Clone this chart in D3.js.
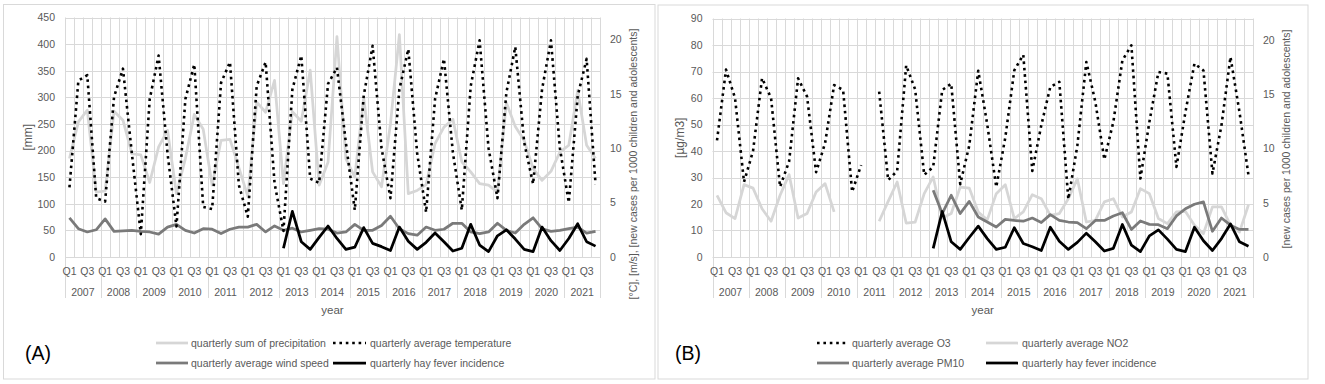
<!DOCTYPE html>
<html><head><meta charset="utf-8">
<script src="https://cdn.jsdelivr.net/npm/d3@7"></script>
<style>
body{margin:0;background:#fff}
svg text{font-family:"Liberation Sans",Arial,sans-serif;fill:#595959}
</style>
</head><body>
<svg id="chart" width="1325" height="384"></svg>
<script>
// ---------------- data ----------------
const years = [2007,2008,2009,2010,2011,2012,2013,2014,2015,2016,2017,2018,2019,2020,2021];
const quarters = ["Q1","Q2","Q3","Q4"];
const shownQuarterLabels = ["Q1","Q3"];
const leftTicksA = [0,50,100,150,200,250,300,350,400,450];
const rightTicks = [0,5,10,15,20];
const leftTicksB = [0,10,20,30,40,50,60,70,80,90];

const precipitation = [185,254,276,122, 124,274,257,194, 192,140,207,238, 119,185,268,240,
  135,219,221,168, 114,291,272,332, 138,273,255,351, 135,178,414,185, 150,300,160,132,
  250,418,119,125, 136,213,244,259, 179,160,138,135, 122,290,245,219, 166,144,161,197,
  210,313,210,185];
const temperature = [6.4,16.2,16.7,5.4, 5.1,14.7,17.3,9.5, 2.1,14.5,18.5,9.5, 2.8,14.5,17.7,4.6,
  4.4,16.0,17.9,6.6, 3.7,15.7,17.9,6.8, 2.4,15.4,18.5,7.2, 6.8,15.9,17.4,10.5, 4.3,14.8,19.4,10.0,
  5.4,15.4,19.1,9.5, 4.1,14.5,18.2,9.6, 4.3,15.7,19.9,10.0, 5.4,15.1,19.3,10.5, 6.7,15.4,19.9,10.0,
  5.0,14.8,18.2,6.7];
const windSpeed = [3.6,2.6,2.3,2.5, 3.5,2.35,2.4,2.45, 2.35,2.3,2.1,2.75, 3.0,2.45,2.2,2.6,
  2.55,2.15,2.55,2.75, 2.75,3.0,2.3,2.85, 2.45,2.65,2.3,2.45, 2.6,2.55,2.2,2.3, 3.0,2.45,2.45,2.9,
  3.75,2.6,2.15,2.0, 2.75,2.45,2.55,3.1, 3.1,2.3,2.15,2.3, 3.1,2.45,2.2,3.0, 3.6,2.6,2.35,2.45,
  2.6,2.75,2.2,2.35];
const hayFever = [null,null,null,null, null,null,null,null, null,null,null,null, null,null,null,null,
  null,null,null,null, null,null,null,null, 0.8,4.2,1.4,0.7, 1.8,2.85,1.7,0.7, 0.9,2.7,1.25,0.95,
  0.6,2.75,1.45,0.7, 1.35,2.2,1.4,0.55, 0.8,3.0,1.1,0.5, 1.95,2.5,1.65,0.7, 0.5,2.75,1.5,0.6,
  1.7,3.05,1.4,1.0];
const o3 = [44,70.7,60,28.3, 40,67.5,60,26.5, 36,67.4,60.5,32, 43,64.9,63,24.6,
  34.7,null,62.4,29, 32.5,72.3,63.2,31, 34,63,65.4,27.5, 42,70.3,50,26.4, 45,70.4,76.3,32.5,
  49.7,64.2,66.1,21.8, 42,73.6,58.5,36.8, 51,74.2,79.9,29.6, 51,69.8,69.2,34, 54.7,73,70.4,31.5,
  49.7,75.5,54.7,30.8];
const no2 = [23.3,16.7,14.5,27.3, 26,18.2,13.5,23.3, 31.1,14.7,16.4,24.5, 27.7,17,null,null,
  null,null,13.5,21, 28.3,12.8,13.2,23.9, 30.2,14.7,16.4,26.4, 26,17,14,23.9, 27.3,14.5,17,23.5,
  22,15.7,16.4,22, 29.5,13.2,13.8,20.8, 22,15.1,17,25.8, 23.9,14.5,12.6,17, 17.2,12,8.8,18.9,
  18.9,12,9.4,19.7];
const pm10 = [null,null,null,null, null,null,null,null, null,null,null,null, null,null,null,null,
  null,null,null,null, null,null,null,null, 25.2,16.4,23.3,16.4, 21,15.1,13.2,11.3, 14.2,13.8,13.5,14.7,
  13,16,13.8,13.2, 13,10.7,13.8,13.8, 15.5,16.7,10.4,13.6, 12.3,12.2,10.7,15.5, 18.2,19.9,20.8,9.7,
  14.7,12,10.4,10.4];

// ---------------- drawing ----------------
const keys = years.flatMap(y => quarters.map(q => y + "-" + q));
const svg = d3.select("#chart");
const FS = "10.5px";
const GRID = "#d9d9d9";

const styles = {
  light:  {stroke:"#d6d6d6", width:2.75, dash:null},
  dark:   {stroke:"#7a7a7a", width:2.75, dash:null},
  black:  {stroke:"#000000", width:2.75, dash:null},
  dotted: {stroke:"#000000", width:2.6,  dash:"2.6,3.8"}
};

function drawPanel(cfg) {
  const g = svg.append("g");
  g.append("rect").attr("x",cfg.frame[0]).attr("y",cfg.frame[1])
    .attr("width",cfg.frame[2]-cfg.frame[0]).attr("height",cfg.frame[3]-cfg.frame[1])
    .attr("fill","none").attr("stroke",GRID).attr("stroke-width",1);

  const x = d3.scaleBand().domain(keys).range([cfg.left,cfg.right]).padding(0);
  const xYear = d3.scaleBand().domain(years).range([cfg.left,cfg.right]).padding(0);
  const yL = d3.scaleLinear().domain(cfg.leftDomain).range([cfg.bottom,cfg.top]);
  const yR = d3.scaleLinear().domain([0,22]).range([cfg.bottom,cfg.top]);

  g.append("g").selectAll("line").data(cfg.leftTicks).join("line")
    .attr("x1",cfg.left).attr("x2",cfg.right)
    .attr("y1",d=>Math.round(yL(d))+0.5).attr("y2",d=>Math.round(yL(d))+0.5)
    .attr("stroke",GRID).attr("stroke-width",1);
  const bounds = keys.map(k=>x(k)).concat([cfg.right]);
  g.append("g").selectAll("line").data(bounds).join("line")
    .attr("x1",d=>Math.round(d)+0.5).attr("x2",d=>Math.round(d)+0.5)
    .attr("y1",cfg.top).attr("y2",cfg.bottom)
    .attr("stroke",GRID).attr("stroke-width",1);
  const yb = years.map(y=>xYear(y)).concat([cfg.right]);
  g.append("g").selectAll("line").data(yb).join("line")
    .attr("x1",d=>Math.round(d)+0.5).attr("x2",d=>Math.round(d)+0.5)
    .attr("y1",cfg.bottom).attr("y2",cfg.bottom+41)
    .attr("stroke",GRID).attr("stroke-width",1);

  const axL = g.append("g").attr("transform",`translate(${cfg.left},0)`)
    .call(d3.axisLeft(yL).tickValues(cfg.leftTicks).tickSize(0).tickPadding(10));
  const axR = g.append("g").attr("transform",`translate(${cfg.right},0)`)
    .call(d3.axisRight(yR).tickValues(rightTicks).tickSize(0).tickPadding(10));
  const axX = g.append("g").attr("transform",`translate(0,${cfg.bottom})`)
    .call(d3.axisBottom(x).tickSize(0).tickPadding(11)
      .tickFormat(k => { const q = k.split("-")[1]; return shownQuarterLabels.includes(q) ? q : ""; }));
  const axY = g.append("g").attr("transform",`translate(0,${cfg.bottom})`)
    .call(d3.axisBottom(xYear).tickSize(0).tickPadding(32).tickFormat(d=>String(d)));
  [axL,axR,axX,axY].forEach(a=>{
    a.select(".domain").remove();
    a.selectAll("text").attr("font-size",FS).style("fill","#595959").attr("font-family",null);
  });

  cfg.series.forEach(s=>{
    const yS = s.axis==="left" ? yL : yR;
    const st = styles[s.style];
    const line = d3.line().defined(d=>d.v!=null)
      .x(d=>x(d.k)+x.bandwidth()/2).y(d=>yS(d.v));
    const data = keys.map((k,i)=>({k, v:s.values[i]}));
    g.append("path").datum(data).attr("d",line)
      .attr("fill","none").attr("stroke",st.stroke).attr("stroke-width",st.width)
      .attr("stroke-linejoin","round")
      .attr("stroke-dasharray",st.dash);
  });

  g.append("text").attr("transform",`translate(${cfg.leftTitleX},${(cfg.top+cfg.bottom)/2}) rotate(-90)`)
    .attr("text-anchor","middle").attr("font-size","12px").text(cfg.leftTitle);
  g.append("text").attr("transform",`translate(${cfg.rightTitleX},${cfg.rightTitleY}) rotate(-90)`)
    .attr("text-anchor","middle").attr("font-size",FS).text(cfg.rightTitle);
  g.append("text").attr("x",(cfg.left+cfg.right)/2).attr("y",314)
    .attr("text-anchor","middle").attr("font-size","11.5px").text("year");

  cfg.legend.forEach(l=>{
    const st = styles[l.style];
    g.append("line").attr("x1",l.x1).attr("x2",l.x2).attr("y1",l.y).attr("y2",l.y)
      .attr("stroke",st.stroke).attr("stroke-width",st.width).attr("stroke-dasharray",st.dash);
    g.append("text").attr("x",l.tx).attr("y",l.y+3.7).attr("font-size",FS).text(l.label);
  });

  g.append("text").attr("x",cfg.letterX).attr("y",360).attr("font-size","19.5px")
    .style("fill","#000").text(cfg.letter);
}

drawPanel({
  frame:[3.5,4.5,655,379], left:65, right:600, top:17.5, bottom:257,
  leftDomain:[0,450], leftTicks:leftTicksA,
  leftTitle:"[mm]", leftTitleX:32,
  rightTitle:"[°C], [m/s], [new cases per 1000 children and adolescents]", rightTitleX:636.5, rightTitleY:164,
  series:[
    {values:precipitation, axis:"left", style:"light"},
    {values:windSpeed, axis:"right", style:"dark"},
    {values:temperature, axis:"right", style:"dotted"},
    {values:hayFever, axis:"right", style:"black"}
  ],
  legend:[
    {x1:156,x2:188,tx:191,y:343,style:"light",label:"quarterly sum of precipitation"},
    {x1:333,x2:366,tx:370,y:343,style:"dotted",label:"quarterly average temperature"},
    {x1:156,x2:188,tx:191,y:363,style:"dark",label:"quarterly average wind speed"},
    {x1:333,x2:366,tx:370,y:363,style:"black",label:"quarterly hay fever incidence"}
  ],
  letter:"(A)", letterX:25
});

drawPanel({
  frame:[658,5,1308,379], left:712.5, right:1253, top:18.5, bottom:257,
  leftDomain:[0,90], leftTicks:leftTicksB,
  leftTitle:"[µg/m3]", leftTitleX:684,
  rightTitle:"[new cases per 1000 children and adolescents]", rightTitleX:1290, rightTitleY:139,
  series:[
    {values:no2, axis:"left", style:"light"},
    {values:pm10, axis:"left", style:"dark"},
    {values:o3, axis:"left", style:"dotted"},
    {values:hayFever, axis:"right", style:"black"}
  ],
  legend:[
    {x1:817,x2:849,tx:852,y:343,style:"dotted",label:"quarterly average O3"},
    {x1:986,x2:1018,tx:1022,y:343,style:"light",label:"quarterly average NO2"},
    {x1:817,x2:849,tx:852,y:363,style:"dark",label:"quarterly average PM10"},
    {x1:986,x2:1018,tx:1022,y:363,style:"black",label:"quarterly hay fever incidence"}
  ],
  letter:"(B)", letterX:675
});
</script>
</body></html>
